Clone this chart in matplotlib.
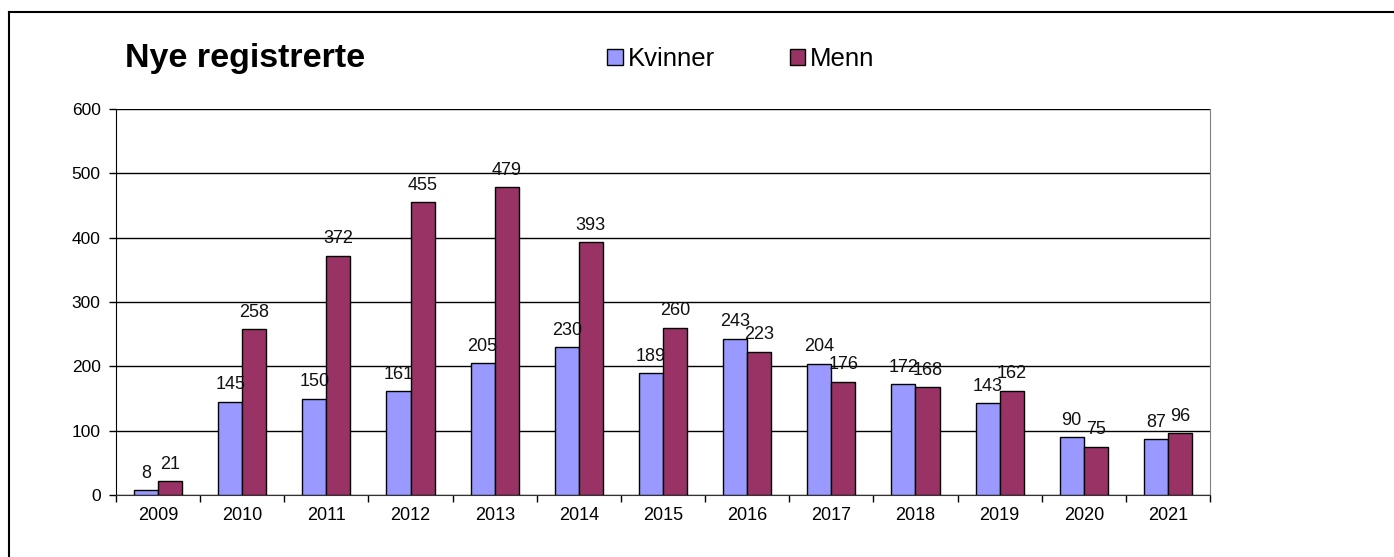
import matplotlib.pyplot as plt
import numpy as np
from matplotlib.patches import Patch
from matplotlib.lines import Line2D

plt.rcParams['font.family'] = ['Liberation Sans', 'DejaVu Sans']

years = ['2009', '2010', '2011', '2012', '2013', '2014', '2015',
         '2016', '2017', '2018', '2019', '2020', '2021']
kvinner = [8, 145, 150, 161, 205, 230, 189, 243, 204, 172, 143, 90, 87]
menn = [21, 258, 372, 455, 479, 393, 260, 223, 176, 168, 162, 75, 96]

col_k = '#9999FF'
col_m = '#993366'

fig = plt.figure(figsize=(13.94, 5.57), dpi=100)
ax = fig.add_axes([116 / 1394, 1 - 495 / 557, (1210 - 116) / 1394, (495 - 109) / 557])

x = np.arange(len(years))
w = 1 / 3.5
bk = ax.bar(x - w / 2, kvinner, w, color=col_k, edgecolor='black', linewidth=1, zorder=3)
bm = ax.bar(x + w / 2, menn, w, color=col_m, edgecolor='black', linewidth=1, zorder=3)

for bars, vals in [(bk, kvinner), (bm, menn)]:
    for b, v in zip(bars, vals):
        ax.annotate(str(v), (b.get_x() + b.get_width() / 2, v), xytext=(0, 6),
                    textcoords='offset points', ha='center', va='bottom',
                    fontsize=13, color='#111111')

ax.set_xlim(-0.5, len(years) - 0.5)
ax.set_ylim(0, 600)
ax.set_yticks(range(0, 601, 100))
ax.yaxis.grid(True, color='black', linewidth=1)
ax.set_axisbelow(True)

ax.set_xticks(x)
ax.set_xticklabels(years, fontsize=13)
ax.tick_params(axis='x', length=0, pad=9)
ax.set_xticks(np.arange(-0.5, len(years), 1), minor=True)
ax.tick_params(axis='x', which='minor', length=5, width=1, direction='out')
ax.tick_params(axis='y', length=5, width=1, direction='out', labelsize=12.5, pad=6)

ax.spines['top'].set_visible(False)
ax.spines['right'].set_color('#808080')
ax.spines['left'].set_color('black')
ax.spines['bottom'].set_color('#333333')

fig.text(125 / 1394, 1 - 58 / 557, 'Nye registrerte', fontsize=24.5, fontweight='bold',
         ha='left', va='center')

handles = [Patch(facecolor=col_k, edgecolor='black'), Patch(facecolor=col_m, edgecolor='black')]
fig.legend(handles, ['Kvinner', 'Menn'], loc='center', bbox_to_anchor=(741 / 1394, 1 - 59 / 557),
           ncol=2, frameon=False, fontsize=18.5, handlelength=0.6, handleheight=0.6,
           handletextpad=0.2, columnspacing=2.9)

# outer frame (top and left edges visible)
fig.add_artist(Line2D([9 / 1394, 1.0], [1 - 12 / 557, 1 - 12 / 557], color='black', linewidth=1.5))
fig.add_artist(Line2D([9 / 1394, 9 / 1394], [0, 1 - 12 / 557], color='black', linewidth=1.5))

fig.savefig('out.png', dpi=100)
